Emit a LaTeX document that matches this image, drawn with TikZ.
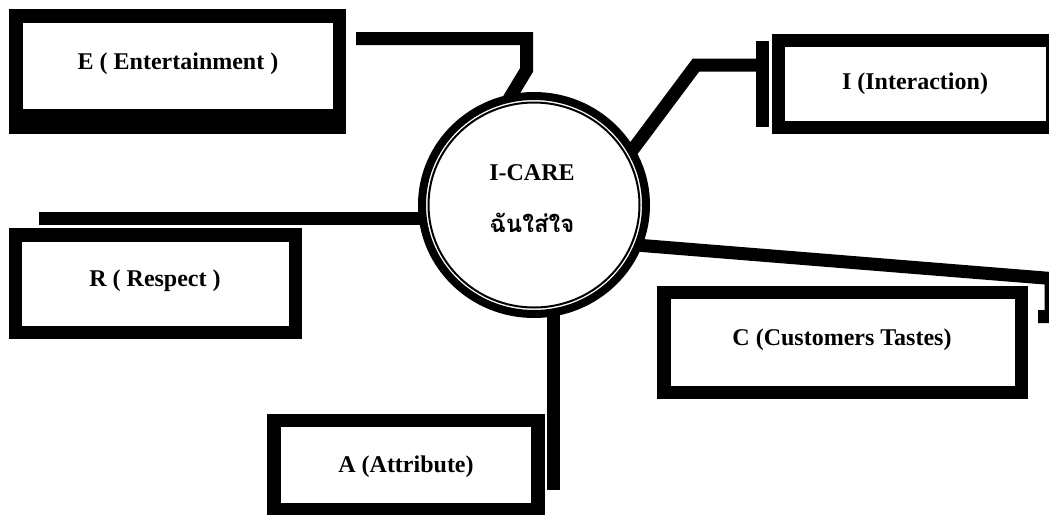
\documentclass[tikz,border=0pt]{standalone}
\usepackage{fontspec}
\setmainfont{Liberation Serif}
\newfontfamily\thaifont[Script=Thai]{Loma}
\begin{document}
\begin{tikzpicture}[x=1pt,y=-1pt,
  conn/.style={line width=13pt, line join=miter, line cap=butt},
  lbl/.style={font=\fontsize{24}{28}\selectfont\bfseries, inner sep=0pt}]
\useasboundingbox (0,0) rectangle (1049,515);
\clip (0,0) rectangle (1049,515);
% named anchor points
\coordinate (core) at (534,205);
\coordinate (e0) at (356,38.5);
\coordinate (e1) at (526.5,38.5);
\coordinate (e2) at (526.5,70);
\coordinate (e3) at (509,99);
\coordinate (i0) at (628,156);
\coordinate (i1) at (696,65);
\coordinate (i2) at (757,65);
\coordinate (r0) at (39,218.5);
\coordinate (r1) at (422,218.5);
\coordinate (c0) at (636,245);
\coordinate (c1) at (1051,278.5);
\coordinate (c2) at (1051,316.5);
\coordinate (c3) at (1038,316.5);
\coordinate (a0) at (553.5,310);
\coordinate (a1) at (553.5,490);
% boxes
\fill[black] (8.6,8.6) rectangle (346,134);
\fill[white] (22.5,23) rectangle (333,109);
\fill[black] (772,34) rectangle (1049,134);
\fill[white] (785,47) rectangle (1046,121);
\fill[black] (756,41) rectangle (769,127);
\fill[black] (9,228) rectangle (302,339);
\fill[white] (22,242) rectangle (289,326);
\fill[black] (657,286) rectangle (1028,399);
\fill[white] (671,299) rectangle (1015,386);
\fill[black] (267,414) rectangle (545,515);
\fill[white] (281,427) rectangle (531,503);
% labels
\node[lbl] (E) at (178,64) {E ( Entertainment )};
\node[lbl] (I) at (915,84) {I (Interaction)};
\node[lbl] (R) at (155,281) {R ( Respect )};
\node[lbl] (C) at (842,340) {C (Customers Tastes)};
\node[lbl] (A) at (406,467) {A (Attribute)};
% connectors
\draw[conn] (e0) -- (e1) -- (e2) -- (e3);
\draw[conn] (i0) -- (i1) -- (i2);
\draw[conn] (r0) -- (r1);
\draw[conn] (c0) -- (c1) -- (c2) -- (c3);
\draw[conn] (a0) -- (a1);
% central circle
\fill[white] (core) ellipse [x radius=109, y radius=106];
\draw[line width=8pt] (core) ellipse [x radius=112, y radius=109];
\draw[line width=2pt] (core) ellipse [x radius=105.5, y radius=102.5];
\node[lbl] (icare) at (532,173) {I-CARE};
\node[inner sep=0pt, font=\thaifont\fontsize{24}{28}\selectfont\bfseries] (thai) at (532,223) {ฉันใส่ใจ};
\end{tikzpicture}
\end{document}
